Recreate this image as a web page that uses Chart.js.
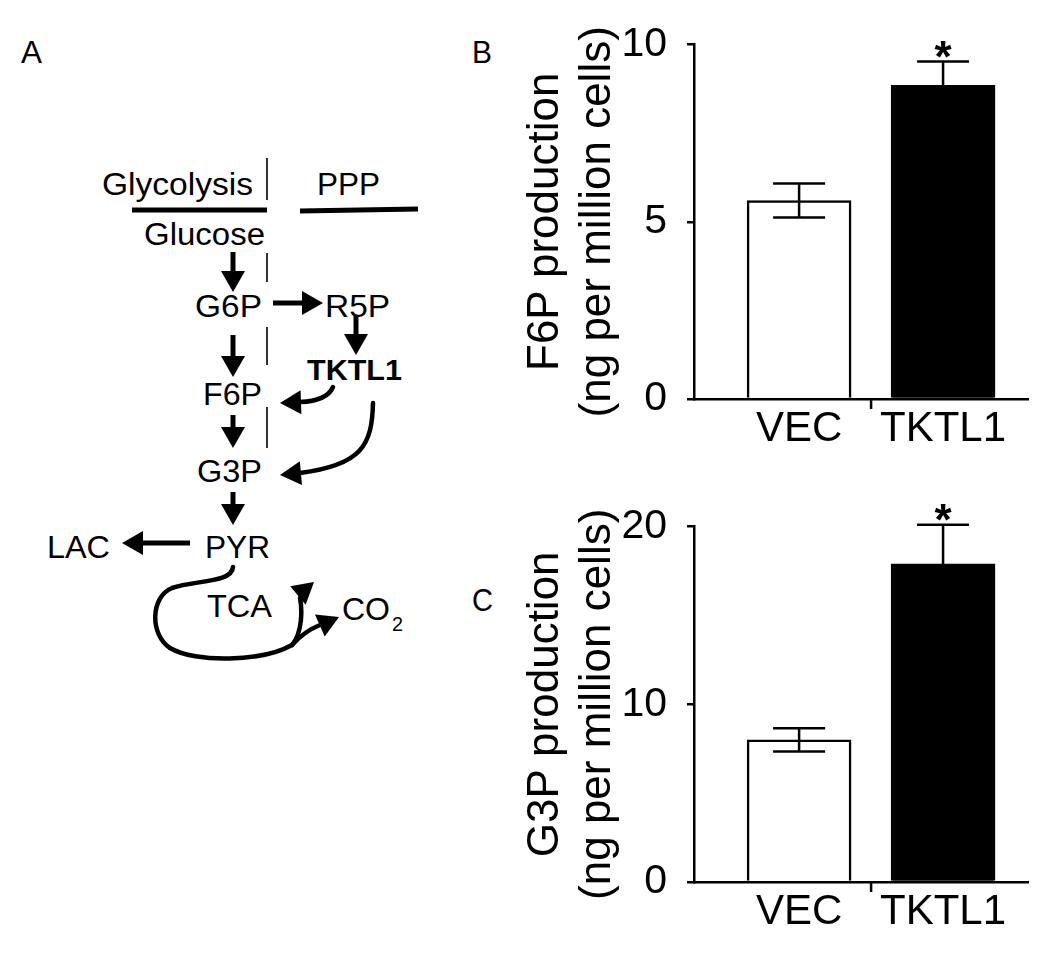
<!DOCTYPE html>
<html>
<head>
<meta charset="utf-8">
<script src="https://cdn.jsdelivr.net/npm/chart.js@4.4.1/dist/chart.umd.min.js"></script>
<style>
  body { margin: 0; background: #fff; }
  #wrap { position: relative; width: 1050px; height: 962px; overflow: hidden; }
  #diagram, canvas { position: absolute; }
</style>
</head>
<body>
<div id="wrap">
  <svg id="diagram" width="1050" height="962" style="left:0;top:0"></svg>
  <canvas id="chartB" width="550" height="480" style="left:500px;top:0"></canvas>
  <canvas id="chartC" width="550" height="480" style="left:500px;top:482px"></canvas>
</div>
<script>
// data
const groups = ["VEC", "TKTL1"];
const f6pMean = [5.6, 8.85];
const f6pErr = [0.48, 0.67];
const g3pMean = [8.0, 17.9];
const g3pErr = [0.65, 2.2];
const signif = ["", "*"];
const f6pTicks = [0, 5, 10];
const g3pTicks = [0, 10, 20];

Chart.defaults.font.family = '"Liberation Sans", Arial, sans-serif';
Chart.defaults.color = "#000";

// ---- panel A: pathway sketch (plain svg, not a chart) ----
let svg = "";
function txt(s, x, y, w, size, weight) {
  svg += `<text x="${x}" y="${y}" font-size="${size}" font-weight="${weight || 400}" textLength="${w}" lengthAdjust="spacingAndGlyphs">${s}</text>`;
}
function head(tx, ty, ang, len, hw) {
  len = len || 21; hw = hw || 12;
  let a = ang * Math.PI / 180;
  let bx = tx - len * Math.cos(a), by = ty - len * Math.sin(a);
  let nx = -Math.sin(a) * hw, ny = Math.cos(a) * hw;
  svg += `<polygon points="${tx},${ty} ${bx + nx},${by + ny} ${bx - nx},${by - ny}" fill="#000"/>`;
}
function arrow(x1, y1, x2, y2) {
  let ang = Math.atan2(y2 - y1, x2 - x1);
  let bx = x2 - 18 * Math.cos(ang), by = y2 - 18 * Math.sin(ang);
  svg += `<line x1="${x1}" y1="${y1}" x2="${bx}" y2="${by}" stroke="#000" stroke-width="5"/>`;
  head(x2, y2, ang * 180 / Math.PI);
}
function curve(d) {
  svg += `<path d="${d}" fill="none" stroke="#000" stroke-width="4.5" stroke-linecap="round"/>`;
}

txt("A", 21, 63, 21, 31);
txt("B", 472, 63, 20, 31);
txt("C", 472, 611, 21, 31);

txt("Glycolysis", 102, 195, 151, 32);
txt("PPP", 317, 195, 63, 31);
svg += `<line x1="132" y1="210" x2="267" y2="210" stroke="#000" stroke-width="5"/>`;
svg += `<line x1="300" y1="211" x2="418" y2="209" stroke="#000" stroke-width="5"/>`;
[[158, 200], [253, 282], [327, 365], [407, 448]].forEach(s => {
  svg += `<line x1="267" y1="${s[0]}" x2="267" y2="${s[1]}" stroke="#333" stroke-width="2"/>`;
});

txt("Glucose", 144, 245, 121, 31);
txt("G6P", 195, 317, 67, 31);
txt("R5P", 325, 317, 65, 31);
txt("TKTL1", 307, 380, 95, 29, 700);
txt("F6P", 203, 405, 59, 31);
txt("G3P", 197, 482, 65, 31);
txt("PYR", 205, 558, 65, 31);
txt("LAC", 47, 558, 63, 31);
txt("TCA", 207, 617, 65, 31);
txt("CO", 342, 620, 48, 31);
txt("2", 392, 631, 11, 20);

arrow(233, 252, 233, 292);
arrow(233, 335, 233, 377);
arrow(233, 415, 233, 448);
arrow(233, 492, 233, 525);
arrow(356, 315, 356, 355);
arrow(273, 303, 323, 303);
arrow(190, 543, 122, 543);

curve("M333,387 Q327,401 300,402");
head(280, 403, 178);
curve("M373,403 C372,445 362,465 300,473");
head(280, 475, 175);
curve("M233,567 C232,583 195,580 172,588 C150,597 150,635 170,648 C195,663 262,662 292,645 C303,632 302,608 300,598");
head(314, 582, -40);
curve("M292,645 C300,636 310,629 320,625");
head(339, 617, -24);

document.getElementById("diagram").innerHTML =
  `<g font-family="Liberation Sans, Arial, sans-serif" fill="#000">${svg}</g>`;

// ---- panels B and C: bar charts with error bars ----
function errorBars(means, errs) {
  return {
    id: "errorBars",
    afterDatasetsDraw(chart) {
      const ctx = chart.ctx;
      const x = chart.scales.x, y = chart.scales.y;
      ctx.save();
      ctx.strokeStyle = "#000";
      ctx.lineWidth = 2.5;
      means.forEach((m, i) => {
        const px = x.getPixelForValue(i + 1);
        const top = y.getPixelForValue(m + errs[i]);
        const bot = y.getPixelForValue(m - errs[i]);
        ctx.beginPath();
        ctx.moveTo(px, top); ctx.lineTo(px, bot);
        ctx.moveTo(px - 26, top); ctx.lineTo(px + 26, top);
        ctx.moveTo(px - 26, bot); ctx.lineTo(px + 26, bot);
        ctx.stroke();
        if (signif[i]) {
          ctx.fillStyle = "#000";
          ctx.font = 'bold 44px "Liberation Sans", Arial, sans-serif';
          ctx.textAlign = "center";
          ctx.textBaseline = "alphabetic";
          ctx.fillText(signif[i], px, top + 10);
        }
      });
      // small tick between the two groups
      const dx = x.getPixelForValue(1.5);
      ctx.beginPath();
      ctx.moveTo(dx, y.bottom);
      ctx.lineTo(dx, y.bottom + 10);
      ctx.stroke();
      ctx.restore();
    }
  };
}

function makeChart(id, title, means, errs, yTicks, xHeight) {
  return new Chart(document.getElementById(id), {
    type: "bar",
    data: {
      datasets: [{
        data: means.map((v, i) => ({ x: i + 1, y: v })),
        backgroundColor: ["#ffffff", "#000000"],
        borderColor: "#000",
        borderWidth: 2.5,
        barThickness: 104
      }]
    },
    options: {
      responsive: false,
      animation: false,
      layout: { padding: { left: 19, top: 41, right: 22, bottom: 0 } },
      plugins: { legend: { display: false }, tooltip: { enabled: false } },
      scales: {
        x: {
          type: "linear",
          offset: false,
          min: 0.27,
          max: 2.59,
          afterBuildTicks: s => { s.ticks = groups.map((g, i) => ({ value: i + 1 })); },
          afterFit: s => { s.height = xHeight; },
          ticks: {
            callback: v => groups[v - 1] || "",
            font: { size: 42 },
            padding: 5,
            maxRotation: 0,
            autoSkip: false
          },
          grid: { display: false, drawTicks: false, offset: false },
          border: { display: true, color: "#000", width: 2.5 }
        },
        y: {
          min: yTicks[0],
          max: yTicks[yTicks.length - 1],
          afterBuildTicks: s => { s.ticks = yTicks.map(v => ({ value: v })); },
          afterFit: s => { s.width = 175; },
          ticks: { font: { size: 41 }, padding: 20 },
          grid: { drawOnChartArea: false, drawTicks: true, tickLength: 7, color: "#000", lineWidth: 2.5 },
          border: { display: true, color: "#000", width: 2.5 },
          title: {
            display: true,
            text: title,
            font: { size: 44 },
            padding: 0
          }
        }
      }
    },
    plugins: [errorBars(means, errs)]
  });
}

makeChart("chartB", ["F6P production", "(ng per million cells)"], f6pMean, f6pErr, f6pTicks, 81);
makeChart("chartC", ["G3P production", "(ng per million cells)"], g3pMean, g3pErr, g3pTicks, 80);
</script>
</body>
</html>
